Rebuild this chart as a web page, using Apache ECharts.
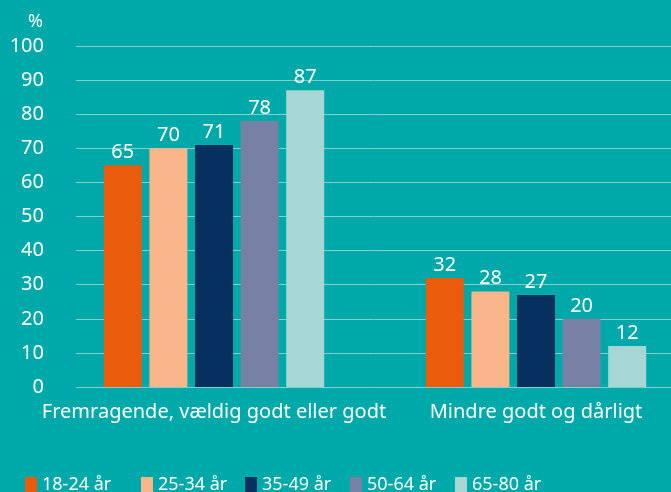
<!DOCTYPE html>
<html lang="da">
<head>
<meta charset="UTF-8">
<title>Selvvurderet helbred</title>
<script src="https://cdn.jsdelivr.net/npm/echarts@6/dist/echarts.min.js"></script>
<style>
  html, body { margin: 0; padding: 0; background: #00a9a9; }
  #main { width: 671px; height: 492px; }
</style>
</head>
<body>
<div id="main"></div>
<script>
// data
var categories = ['Fremragende, vældig godt eller godt', 'Mindre godt og dårligt'];
var ageGroups = ['18-24 år', '25-34 år', '35-49 år', '50-64 år', '65-80 år'];
var values18_24 = [65, 32];
var values25_34 = [70, 28];
var values35_49 = [71, 27];
var values50_64 = [78, 20];
var values65_80 = [87, 12];
var colors = ['#ea5b0c', '#f9b68a', '#06305f', '#7781a6', '#a6d7d4'];

var seriesValues = [values18_24, values25_34, values35_49, values50_64, values65_80];
var font = 'Noto Sans';
var legendLeft = [25, 141, 245, 350, 455];

var series = ageGroups.map(function (name, i) {
    return {
        name: name,
        type: 'bar',
        xAxisIndex: 1,
        yAxisIndex: 1,
        barWidth: 38,
        barGap: '20%',
        itemStyle: { color: colors[i] },
        label: {
            show: true,
            position: 'top',
            distance: 3,
            color: '#fff',
            fontFamily: font,
            fontSize: 20
        },
        data: seriesValues[i]
    };
});

// one legend per item so the spacing can follow the original
var legends = ageGroups.map(function (name, i) {
    return {
        left: legendLeft[i],
        top: 476,
        padding: 0,
        itemWidth: 12,
        itemHeight: 16,
        itemGap: 0,
        itemTextGap: 6,
        icon: 'rect',
        data: [name],
        textStyle: { color: '#fff', fontFamily: font, fontSize: 18 }
    };
});

var chart = echarts.init(document.getElementById('main'));
chart.setOption({
    backgroundColor: '#00a9a9',
    animation: false,
    color: colors,
    title: {
        text: '%',
        left: 23,
        top: 8,
        textStyle: { color: '#fff', fontFamily: font, fontSize: 18, fontWeight: 'normal' }
    },
    legend: legends,
    grid: [
        { left: 76, right: 0, top: 46, bottom: 105, outerBoundsMode: 'none' },
        { left: 53, width: 644, top: 46, bottom: 105, outerBoundsMode: 'none' }
    ],
    xAxis: [
        { gridIndex: 0, type: 'value', show: false, min: 0, max: 1 },
        {
            gridIndex: 1,
            type: 'category',
            data: categories,
            axisLine: { show: false },
            axisTick: { show: false },
            axisLabel: { color: '#fff', fontFamily: font, fontSize: 20, margin: 15, interval: 0 }
        }
    ],
    yAxis: [
        {
            gridIndex: 0,
            type: 'value',
            min: 0,
            max: 100,
            interval: 10,
            axisLine: { show: false },
            axisTick: { show: false },
            axisLabel: { color: '#fff', fontFamily: font, fontSize: 20, margin: 32 },
            splitLine: { lineStyle: { color: '#7fd0ce', width: 1 } }
        },
        {
            gridIndex: 1,
            type: 'value',
            min: 0,
            max: 100,
            show: false,
            splitLine: { show: false }
        }
    ],
    series: series
});
</script>
</body>
</html>
